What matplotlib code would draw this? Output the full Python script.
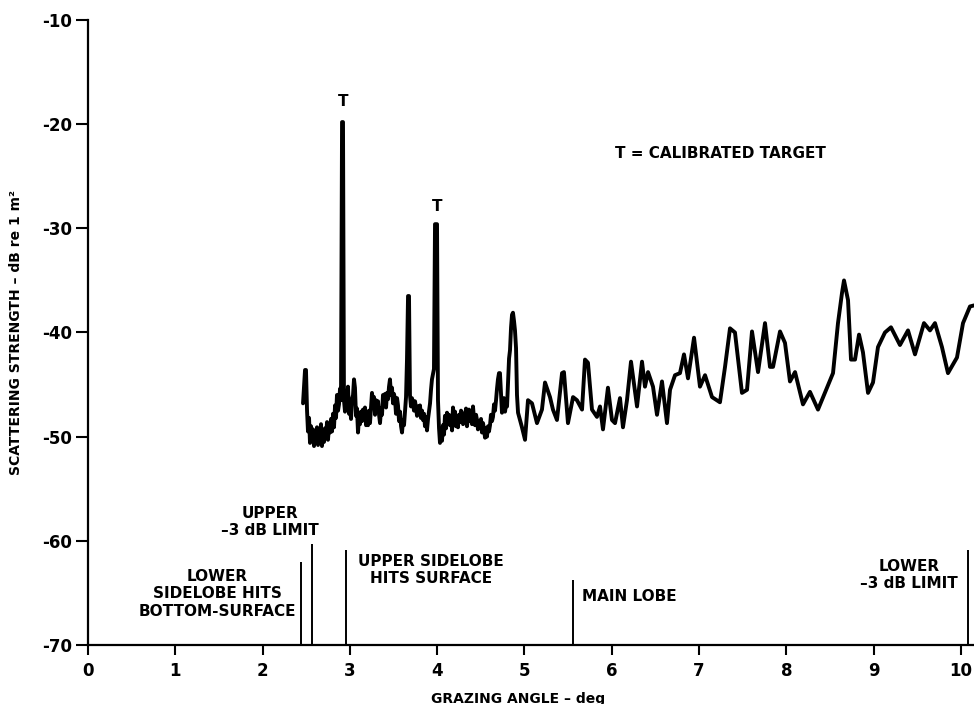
"""
plot.py - backscatter strength vs grazing angle (scanned figure redraw).
"""

import matplotlib
matplotlib.use('Agg')
import matplotlib.pyplot as plt


# ── Data ──────────────────────────────────────────────────────────────────────

ANGLE_DEG = [
    2.463, 2.486, 2.497, 2.509, 2.520, 2.532, 2.543, 2.555, 2.566, 2.577,
    2.589, 2.600, 2.612, 2.623, 2.635, 2.646, 2.658, 2.669, 2.680, 2.692,
    2.704, 2.715, 2.726, 2.738, 2.749, 2.761, 2.772, 2.784, 2.795, 2.807,
    2.818, 2.830, 2.841, 2.852, 2.864, 2.875, 2.887, 2.898, 2.910, 2.921,
    2.932, 2.944, 2.955, 2.967, 2.978, 2.990, 3.001, 3.013, 3.024, 3.036,
    3.047, 3.058, 3.070, 3.081, 3.093, 3.104, 3.116, 3.127, 3.139, 3.150,
    3.162, 3.173, 3.185, 3.196, 3.208, 3.219, 3.230, 3.242, 3.253, 3.265,
    3.276, 3.288, 3.299, 3.311, 3.322, 3.334, 3.345, 3.357, 3.368, 3.379,
    3.391, 3.402, 3.414, 3.425, 3.437, 3.448, 3.459, 3.471, 3.482, 3.494,
    3.505, 3.517, 3.528, 3.540, 3.551, 3.563, 3.574, 3.586, 3.597, 3.609,
    3.620, 3.631, 3.643, 3.654, 3.666, 3.677, 3.688, 3.700, 3.711, 3.723,
    3.734, 3.746, 3.757, 3.769, 3.780, 3.792, 3.803, 3.814, 3.826, 3.837,
    3.849, 3.860, 3.872, 3.883, 3.895, 3.906, 3.918, 3.929, 3.940, 3.952,
    3.963, 3.975, 3.998, 4.009, 4.021, 4.032, 4.044, 4.055, 4.066, 4.078,
    4.089, 4.101, 4.112, 4.124, 4.135, 4.147, 4.158, 4.170, 4.181, 4.193,
    4.204, 4.215, 4.227, 4.238, 4.250, 4.261, 4.273, 4.284, 4.296, 4.307,
    4.318, 4.330, 4.341, 4.353, 4.364, 4.376, 4.387, 4.399, 4.410, 4.422,
    4.433, 4.445, 4.456, 4.467, 4.479, 4.490, 4.502, 4.513, 4.525, 4.536,
    4.548, 4.559, 4.570, 4.582, 4.593, 4.605, 4.616, 4.628, 4.639, 4.651,
    4.662, 4.674, 4.685, 4.696, 4.708, 4.719, 4.731, 4.742, 4.754, 4.765,
    4.777, 4.788, 4.800, 4.811, 4.823, 4.834, 4.846, 4.857, 4.868, 4.880,
    4.891, 4.903, 4.914, 4.926,
    4.971, 5.006, 5.040, 5.086, 5.143, 5.200, 5.235, 5.292, 5.326, 5.372,
    5.430, 5.452, 5.498, 5.556, 5.601, 5.659, 5.693, 5.727, 5.773, 5.830,
    5.865, 5.899, 5.956,
    6.002, 6.037, 6.094, 6.128, 6.174, 6.220, 6.289, 6.346, 6.380, 6.415,
    6.472, 6.518, 6.575, 6.632, 6.667, 6.724, 6.781, 6.827, 6.873, 6.942,
    7.010, 7.068, 7.148, 7.239, 7.297, 7.354, 7.411, 7.491, 7.549, 7.606,
    7.675, 7.755, 7.812, 7.847, 7.927, 7.984, 8.041, 8.099,
    8.190, 8.270, 8.362, 8.465, 8.534, 8.591, 8.637, 8.660, 8.706, 8.740,
    8.786, 8.832, 8.877, 8.935, 8.992, 9.049, 9.129, 9.198, 9.301, 9.393,
    9.473, 9.576, 9.645, 9.702, 9.782, 9.851, 9.954, 10.023, 10.103, 10.149,
]

STRENGTH_DB = [
    -46.8, -43.6, -43.6, -47.5, -49.5, -48.2, -50.6, -49.0, -50.4, -49.3,
    -50.9, -49.8, -50.6, -49.1, -50.8, -49.6, -50.2, -48.8, -50.9, -49.7,
    -50.5, -49.2, -50.1, -48.6, -50.3, -49.0, -49.6, -48.3, -49.5, -47.8,
    -49.1, -47.0, -48.2, -46.0, -47.5, -46.9, -45.4, -46.5, -19.8, -19.8,
    -46.5, -47.6, -45.8, -46.9, -45.2, -47.8, -47.0, -48.3, -46.4, -46.0,
    -44.5, -45.3, -48.0, -47.3, -49.6, -48.2, -48.8, -47.6, -48.5, -47.4,
    -48.0, -47.2, -48.9, -48.3, -48.9, -47.5, -48.7, -47.1, -45.8, -46.8,
    -46.2, -47.9, -46.5, -47.6, -46.6, -47.9, -48.7, -47.3, -47.9, -46.0,
    -46.8, -45.9, -47.2, -45.8, -46.4, -45.2, -44.5, -46.0, -45.3, -46.8,
    -45.9, -46.4, -47.8, -46.3, -47.0, -48.5, -47.6, -49.0, -49.6, -48.4,
    -48.9, -47.6, -46.2, -42.6, -36.5, -36.5, -46.0, -47.1, -46.3, -46.7,
    -47.5, -46.6, -47.2, -48.0, -47.1, -47.8, -47.0, -48.2, -47.5, -48.4,
    -47.8, -49.0, -48.1, -49.4, -48.3, -47.6, -46.8, -45.5, -44.5, -44.0,
    -43.5, -29.6, -29.6, -46.5, -49.2, -50.6, -49.6, -50.4, -48.9, -49.8,
    -48.0, -49.2, -47.7, -48.8, -47.9, -48.9, -48.0, -49.4, -47.2, -48.3,
    -47.6, -49.0, -48.1, -49.1, -47.9, -48.6, -47.5, -47.7, -48.8, -47.9,
    -48.4, -47.3, -49.0, -48.2, -47.4, -48.5, -47.6, -48.8, -47.1, -48.3,
    -48.9, -47.9, -48.4, -49.3, -48.5, -49.1, -48.3, -49.6, -48.7, -49.3,
    -50.1, -49.2, -50.0, -49.0, -49.5, -48.9, -47.9, -48.5, -48.1, -46.9,
    -47.5, -46.5, -45.4, -44.5, -43.9, -43.9, -45.8, -47.7, -47.0, -46.3,
    -47.6, -46.9, -47.1, -45.0, -42.5, -41.7, -39.5, -38.3, -38.1, -38.9,
    -39.8, -41.5, -46.0, -47.7,
    -49.1, -50.3, -46.5, -46.8, -48.7, -47.4, -44.8, -46.2, -47.4, -48.4,
    -43.9, -43.8, -48.7, -46.2, -46.5, -47.4, -42.6, -42.9, -47.4, -48.1,
    -47.1, -49.3, -45.3,
    -48.4, -48.7, -46.3, -49.1, -46.5, -42.8, -47.1, -42.8, -45.2, -43.8,
    -45.2, -47.9, -44.7, -48.7, -45.5, -44.1, -43.9, -42.1, -44.4, -40.5,
    -45.2, -44.1, -46.2, -46.7, -43.3, -39.6, -40.0, -45.8, -45.5, -39.9,
    -43.8, -39.1, -43.3, -43.3, -39.9, -41.0, -44.7, -43.8,
    -46.9, -45.7, -47.4, -45.3, -43.9, -39.1, -36.2, -35.0, -36.9, -42.6,
    -42.6, -40.2, -41.9, -45.8, -44.8, -41.4, -40.0, -39.5, -41.2, -39.8,
    -42.1, -39.1, -39.8, -39.1, -41.4, -43.9, -42.4, -39.1, -37.5, -37.4,
]

# vertical reference markers along the bottom of the plot
MARKER_ANGLE = [2.44, 2.566, 2.955, 5.552, 10.08]
MARKER_TOP_DB = [-62.0, -60.3, -60.9, -63.8, -60.9]

# calibrated target labels
TARGET_ANGLE = [2.921, 3.998]
TARGET_LABEL_DB = [-17.8, -27.9]

X_TICKS = [0, 1, 2, 3, 4, 5, 6, 7, 8, 9, 10]
Y_TICKS = [-70, -60, -50, -40, -30, -20, -10]
Y_TICK_LABELS = ['-70', '-60', '-50', '-40', '-30', '-20', '-10']


# ── Figure ────────────────────────────────────────────────────────────────────

plt.rcParams['font.family'] = ['DejaVu Sans']
plt.rcParams['font.weight'] = 'bold'

fig = plt.figure(figsize=(9.74, 7.04), dpi=100)
ax = fig.add_axes([88 / 974, 59 / 704, 886 / 974, 625 / 704])

ax.plot(ANGLE_DEG, STRENGTH_DB, color='black', linewidth=2.8,
        solid_joinstyle='round', solid_capstyle='round')

ax.vlines(MARKER_ANGLE, -70, MARKER_TOP_DB, color='black', linewidth=1.4)

for xa, ya in zip(TARGET_ANGLE, TARGET_LABEL_DB):
    ax.text(xa, ya, 'T', ha='center', va='center', fontsize=11,
            fontweight='bold')

txt = dict(fontsize=11, fontweight='bold', va='center', linespacing=1.2)
ax.text(6.037, -22.8, 'T = CALIBRATED TARGET', ha='left', **txt)
ax.text(2.08, -58.2, 'UPPER\n–3 dB LIMIT', ha='center',
        multialignment='center', **txt)
ax.text(1.478, -65.1, 'LOWER\nSIDELOBE HITS\nBOTTOM-SURFACE', ha='center',
        multialignment='center', **txt)
ax.text(3.93, -62.8, 'UPPER SIDELOBE\nHITS SURFACE', ha='center',
        multialignment='center', **txt)
ax.text(5.659, -65.3, 'MAIN LOBE', ha='left', **txt)
ax.text(9.405, -63.3, 'LOWER\n–3 dB LIMIT', ha='center',
        multialignment='center', **txt)

ax.set_xlim(0, 10.149)
ax.set_ylim(-70, -10)
ax.set_xticks(X_TICKS)
ax.set_xticklabels([str(t) for t in X_TICKS])
ax.set_yticks(Y_TICKS)
ax.set_yticklabels(Y_TICK_LABELS)

ax.tick_params(axis='y', direction='out', length=8.5, width=1.5, pad=3,
               labelsize=12)
ax.tick_params(axis='x', direction='out', length=7, width=1.5, pad=5,
               labelsize=12)
for lbl in ax.get_xticklabels() + ax.get_yticklabels():
    lbl.set_fontweight('bold')

for side in ('top', 'right'):
    ax.spines[side].set_visible(False)
for side in ('left', 'bottom'):
    ax.spines[side].set_linewidth(1.6)

ax.set_xlabel('GRAZING ANGLE – deg', fontsize=10, fontweight='bold')
ax.xaxis.set_label_coords(0.485, -0.075)
ax.set_ylabel('SCATTERING STRENGTH – dB re 1 m²', fontsize=10,
              fontweight='bold')
ax.yaxis.set_label_coords(-0.073, 0.5)

fig.savefig('out.png', dpi=100)
